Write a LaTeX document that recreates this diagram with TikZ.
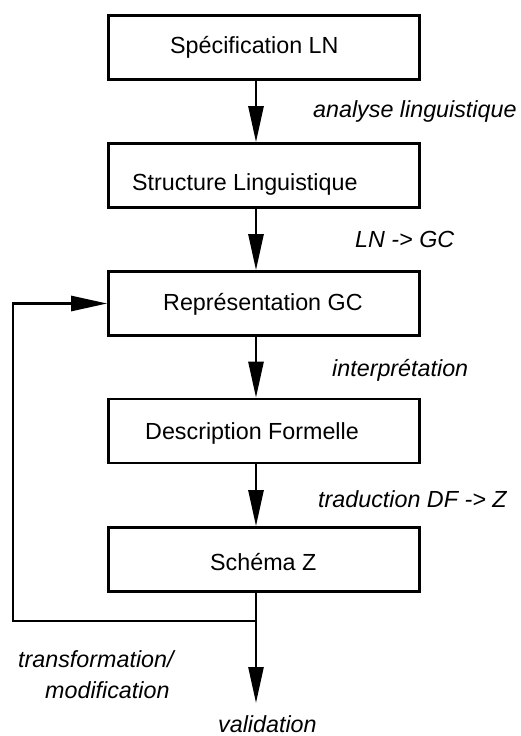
\documentclass[tikz,border=0pt]{standalone}
\usepackage{fontspec}
\setmainfont{Liberation Sans}
\usetikzlibrary{arrows.meta}
\begin{document}
\begin{tikzpicture}[x=1pt,y=-1pt,
  box/.style={draw, line width=2.6pt, minimum width=311pt, minimum height=64pt, inner sep=0pt},
  txt/.style={anchor=base west, inner sep=0pt, font=\fontsize{23.3}{28}\selectfont},
  lbl/.style={anchor=base west, inner sep=0pt, font=\fontsize{23.3}{28}\selectfont\itshape},
  flow/.style={line width=2.6pt, -{Triangle[length=36pt,width=15pt]}}]
\useasboundingbox (0,0) rectangle (520,736);
% boxes
\node[box] (b1) at (264,47.2) {};
\node[box] (b2) at (264,175.5) {};
\node[box] (b3) at (264,303.5) {};
\node[box] (b4) at (264,431) {};
\node[box] (b5) at (264,559.5) {};
% box texts
\node[txt] (t1) at (170,53.5) {Spécification LN};
\node[txt] (t2) at (132,190.7) {Structure Linguistique};
\node[txt] (t3) at (163,310) {Représentation GC};
\node[txt] (t4) at (145,439.3) {Description Formelle};
\node[txt] (t5) at (210,570.7) {Schéma Z};
% labels
\node[lbl] (l1) at (313,117) {analyse linguistique};
\node[lbl] (l2) at (355,247) {LN -> GC};
\node[lbl] (l3) at (332,376) {interprétation};
\node[lbl] (l4) at (318,507) {traduction DF -> Z};
\node[lbl] (l5) at (18,667) {transformation/};
\node[lbl] (l6) at (45,698) {modification};
\node[lbl] (l7) at (218,732) {validation};
% connectors
\coordinate (ax) at (256,0);
\coordinate (j) at (256,621);
\coordinate (lc) at (13,621);
\coordinate (out) at (256,703);
\draw[flow] (b1.south -| ax) -- (b2.north -| ax);
\draw[flow] (b2.south -| ax) -- (b3.north -| ax);
\draw[flow] (b3.south -| ax) -- (b4.north -| ax);
\draw[flow] (b4.south -| ax) -- (b5.north -| ax);
\draw[flow] (b5.south -| ax) -- (out);
\draw[flow] (j) -- (lc) |- (b3.west);
\end{tikzpicture}
\end{document}
